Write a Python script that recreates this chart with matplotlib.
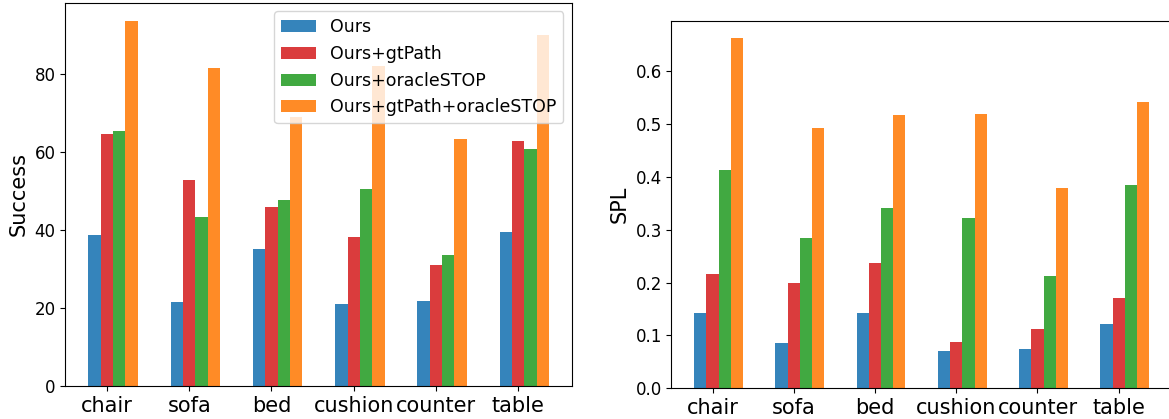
import matplotlib
matplotlib.use("Agg")
import matplotlib.pyplot as plt
import numpy as np

# Data
categories = ['chair', 'sofa', 'bed', 'cushion', 'counter', 'table']
methods = ['Ours', 'Ours+gtPath', 'Ours+oracleSTOP', 'Ours+gtPath+oracleSTOP']
colors = ['tab:blue', 'tab:red', 'tab:green', 'tab:orange']

success_ours = [38.8, 21.6, 35.1, 21.1, 21.7, 39.6]
success_gtpath = [64.7, 52.8, 46.0, 38.1, 31.0, 62.7]
success_stop = [65.4, 43.2, 47.6, 50.6, 33.5, 60.7]
success_both = [93.6, 81.6, 68.9, 82.0, 63.4, 90.1]

spl_ours = [0.143, 0.086, 0.143, 0.070, 0.075, 0.122]
spl_gtpath = [0.217, 0.200, 0.238, 0.088, 0.113, 0.171]
spl_stop = [0.414, 0.284, 0.341, 0.323, 0.212, 0.385]
spl_both = [0.662, 0.492, 0.517, 0.519, 0.379, 0.542]

x = np.arange(len(categories))
w = 0.15

fig = plt.figure(figsize=(11.69, 4.19), dpi=100)
ax1 = fig.add_axes([0.0560, 0.0788, 0.4333, 0.9148])
ax2 = fig.add_axes([0.5744, 0.0733, 0.4281, 0.8766])

# Success plot
for i, vals in enumerate([success_ours, success_gtpath, success_stop, success_both]):
    ax1.bar(x + (i - 1) * w, vals, w, color=colors[i], alpha=0.9, label=methods[i])
ax1.set_ylabel('Success', fontsize=15)
ax1.set_xticks(x)
ax1.set_xticklabels(categories, fontsize=15)
ax1.tick_params(axis='y', labelsize=12)
ax1.legend(loc='upper right', fontsize=12.5)

# SPL plot
for i, vals in enumerate([spl_ours, spl_gtpath, spl_stop, spl_both]):
    ax2.bar(x + (i - 1) * w, vals, w, color=colors[i], alpha=0.9, label=methods[i])
ax2.set_ylabel('SPL', fontsize=15)
ax2.set_xticks(x)
ax2.set_xticklabels(categories, fontsize=15)
ax2.tick_params(axis='y', labelsize=12)

plt.savefig('out.png', dpi=100)
